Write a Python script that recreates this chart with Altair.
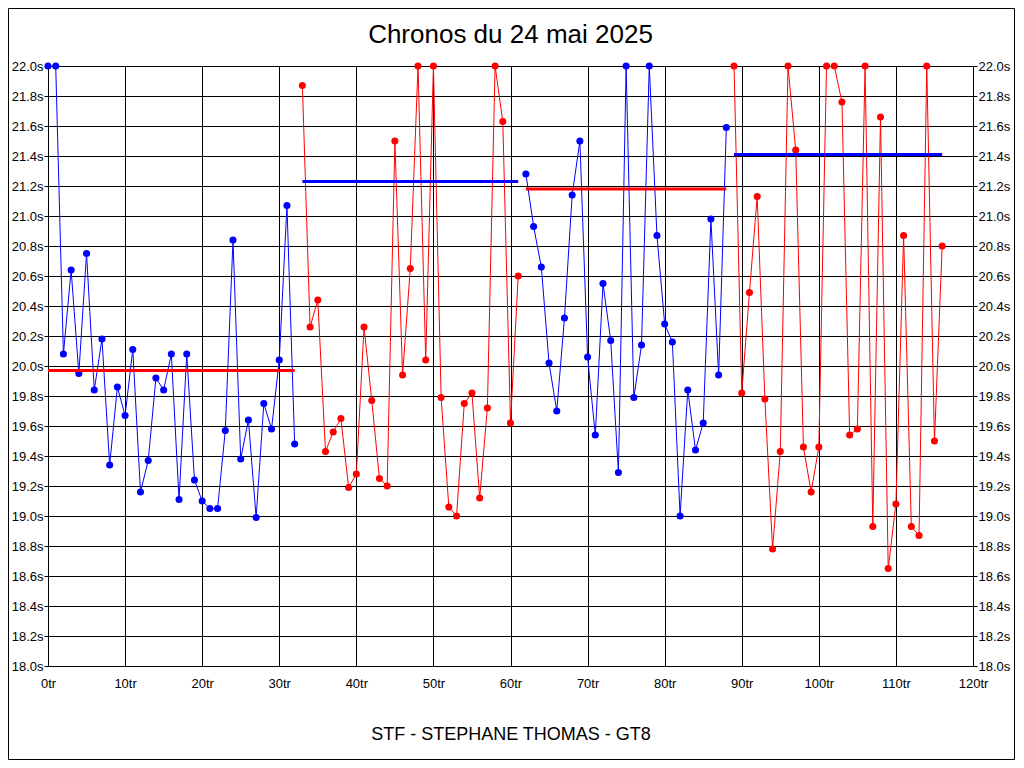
import altair as alt
import pandas as pd

# Lap times (s) per stint
stint_start = [0, 33, 62, 89]
stint_color = ["#0000FF", "#FF0000", "#0000FF", "#FF0000"]
stint1 = [22.0, 22.0, 20.08, 20.64, 19.95, 20.75, 19.84, 20.18, 19.34, 19.86,
          19.67, 20.11, 19.16, 19.37, 19.92, 19.84, 20.08, 19.11, 20.08, 19.24,
          19.10, 19.05, 19.05, 19.57, 20.84, 19.38, 19.64, 18.99, 19.75, 19.58,
          20.04, 21.07, 19.48]
stint2 = [21.87, 20.26, 20.44, 19.43, 19.56, 19.65, 19.19, 19.28, 20.26, 19.77,
          19.25, 19.20, 21.50, 19.94, 20.65, 22.0, 20.04, 22.0, 19.79, 19.06,
          19.00, 19.75, 19.82, 19.12, 19.72, 22.0, 21.63, 19.62, 20.60]
stint3 = [21.28, 20.93, 20.66, 20.02, 19.70, 20.32, 21.14, 21.50, 20.06, 19.54,
          20.55, 20.17, 19.29, 22.0, 19.79, 20.14, 22.0, 20.87, 20.28, 20.16,
          19.00, 19.84, 19.44, 19.62, 20.98, 19.94, 21.59]
stint4 = [22.0, 19.82, 20.49, 21.13, 19.78, 18.78, 19.43, 22.0, 21.44, 19.46,
          19.16, 19.46, 22.0, 22.0, 21.76, 19.54, 19.58, 22.0, 18.93, 21.66,
          18.65, 19.08, 20.87, 18.93, 18.87, 22.0, 19.50, 20.80]
stints = [stint1, stint2, stint3, stint4]

# Mean lines per stint
mean_start = [0, 33, 62, 89]
mean_end = [32, 61, 88, 116]
mean_value = [19.97, 21.23, 21.18, 21.41]
mean_color = ["#FF0000", "#0000FF", "#FF0000", "#0000FF"]

x_ticks = [0, 10, 20, 30, 40, 50, 60, 70, 80, 90, 100, 110, 120]
y_ticks = [18.0, 18.2, 18.4, 18.6, 18.8, 19.0, 19.2, 19.4, 19.6, 19.8, 20.0,
           20.2, 20.4, 20.6, 20.8, 21.0, 21.2, 21.4, 21.6, 21.8, 22.0]

rows = []
for i, (start, vals) in enumerate(zip(stint_start, stints)):
    for k, v in enumerate(vals):
        rows.append({"lap": start + k, "t": v, "stint": i, "color": stint_color[i]})
df = pd.DataFrame(rows)

means = pd.DataFrame({"lap": mean_start, "lap2": mean_end, "t": mean_value, "color": mean_color})

W, H = 925, 600
FONT = "Liberation Sans"

xscale = alt.Scale(domain=[0, 120], nice=False, zero=False)
yscale = alt.Scale(domain=[18, 22], nice=False, zero=False, clamp=True)

x_axis = alt.Axis(values=x_ticks, labelExpr="datum.value + 'tr'", grid=True,
                  gridColor="black", gridOpacity=1, gridWidth=1, ticks=False,
                  labelPadding=11, labelFont=FONT, labelFontSize=13, labelColor="black",
                  domain=False, title="STF - STEPHANE THOMAS - GT8", titleFont=FONT,
                  titleFontSize=18, titleFontWeight="normal", titleColor="black",
                  titlePadding=35, labelFlush=False)
y_axis_left = alt.Axis(values=y_ticks, labelExpr="format(datum.value, '.1f') + 's'",
                       grid=True, gridColor="black", gridOpacity=1, gridWidth=1,
                       tickSize=4, tickColor="black", labelPadding=1, labelFont=FONT,
                       labelFontSize=13, labelColor="black", domain=False, title=None,
                       orient="left", labelFlush=False)
y_axis_right = alt.Axis(values=y_ticks, labelExpr="format(datum.value, '.1f') + 's'",
                        grid=False, tickSize=4, tickColor="black", labelPadding=1,
                        labelFont=FONT, labelFontSize=13, labelColor="black",
                        domain=False, title=None, orient="right", labelFlush=False)

X = alt.X("lap:Q", scale=xscale, axis=x_axis)

base = alt.Chart(df)

lines = base.mark_line(strokeWidth=1, clip=True).encode(
    x=X,
    y=alt.Y("t:Q", scale=yscale, axis=y_axis_left),
    detail="stint:N",
    color=alt.Color("color:N", scale=None),
)

points = base.mark_point(filled=True, size=50, opacity=1, shape="circle").encode(
    x=X,
    y=alt.Y("t:Q", scale=yscale, axis=None),
    color=alt.Color("color:N", scale=None),
)

right_axis = base.mark_point(opacity=0).encode(
    x=X,
    y=alt.Y("t:Q", scale=yscale, axis=y_axis_right),
)

mean_rules = alt.Chart(means).mark_rule(strokeWidth=3).encode(
    x=X,
    x2="lap2:Q",
    y=alt.Y("t:Q", scale=yscale, axis=None),
    color=alt.Color("color:N", scale=None),
)

title_text = alt.Chart(alt.Data(values=[{"label": "Chronos du 24 mai 2025"}])).mark_text(
    font=FONT, fontSize=26, color="black", align="center", baseline="alphabetic"
).encode(text="label:N", x=alt.value(W / 2), y=alt.value(-23))

frame = alt.Chart(alt.Data(values=[{"a": 1}])).mark_rect(
    fill=None, stroke="black", strokeWidth=1
).encode(x=alt.value(-39.5), x2=alt.value(966.5), y=alt.value(-57.5), y2=alt.value(693.5))

chart = alt.layer(lines, points, mean_rules, right_axis, title_text, frame).resolve_scale(
    y="shared", x="shared"
).resolve_axis(y="independent", x="shared").properties(
    width=W, height=H,
    autosize=alt.AutoSizeParams(type="none"),
    padding={"left": 40, "top": 58, "right": 43, "bottom": 94},
    background="white",
).configure_view(stroke="black", strokeWidth=1)

chart.save("out.html", embed_options={"renderer": "svg", "actions": False})
